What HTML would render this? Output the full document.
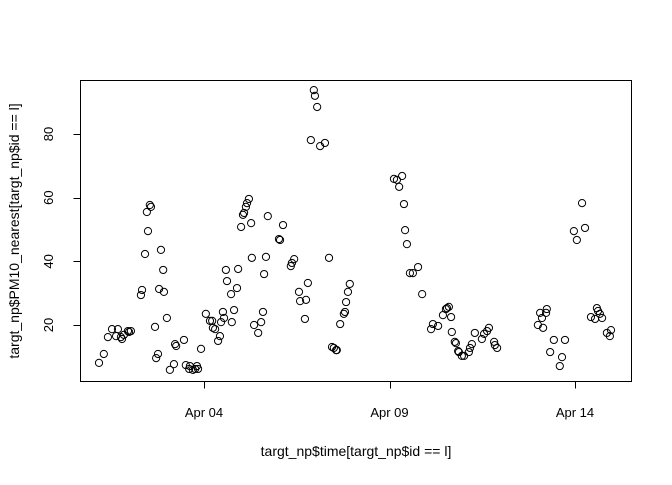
<!DOCTYPE html>
<html><head><meta charset="utf-8"><style>
html,body{margin:0;padding:0;background:#fff;}
svg text{font-family:"Liberation Sans",Arial,sans-serif;fill:#000;}
</style></head><body>
<svg id="chart" width="672" height="480" viewBox="0 0 672 480" xmlns="http://www.w3.org/2000/svg">
<rect x="80.5" y="80.5" width="551" height="301" fill="none" stroke="#000" stroke-width="1"/>
<g id="axes"></g>
<g id="points"></g>
<text x="356" y="456" font-size="14" text-anchor="middle">targt_np$time[targt_np$id == l]</text>
<text x="0" y="0" font-size="14" text-anchor="middle" transform="translate(19,231) rotate(-90)">targt_np$PM10_nearest[targt_np$id == l]</text>
</svg>
<script>
// time in days of April (Apr 04 00:00 = 4)
const times = [1.17,1.30,1.41,1.52,1.63,1.68,1.76,1.79,1.84,1.95,1.98,2.03,2.30,2.33,2.41,2.49,2.46,2.54,2.57,2.68,2.71,2.76,2.79,2.84,2.90,2.92,3.00,3.08,3.19,3.22,3.25,3.46,3.51,3.60,3.62,3.70,3.76,3.81,3.84,3.92,
4.05,4.16,4.22,4.24,4.30,4.38,4.43,4.46,4.51,4.54,4.59,4.62,4.73,4.75,4.81,4.89,4.92,5.00,5.05,5.08,5.13,5.16,5.21,5.27,5.29,5.35,5.46,5.54,5.59,5.62,5.67,5.72,6.02,6.05,6.13,6.34,6.37,6.43,6.56,6.59,6.75,6.72,6.80,
6.88,6.96,6.99,7.05,7.13,7.26,7.37,7.45,7.50,7.56,7.58,7.67,7.77,7.80,7.83,7.88,7.93,9.12,9.20,9.26,9.34,9.39,9.42,9.47,9.55,9.63,9.77,9.88,10.12,10.17,10.31,
10.44,10.52,10.55,10.60,10.66,10.68,10.76,10.79,10.85,10.87,10.95,11.01,11.14,11.17,11.22,11.30,11.49,11.55,11.63,11.68,11.82,11.84,11.90,
13.00,13.06,13.11,13.14,13.22,13.24,13.33,13.43,13.65,13.59,13.73,13.97,14.05,14.19,14.27,14.43,14.54,14.59,14.62,14.67,14.73,14.86,14.94,14.97];
const pm10 = [8.1,10.9,16.2,18.7,16.5,18.7,16.2,15.6,16.9,18.1,17.8,18.1,29.4,31.0,42.3,49.5,55.5,57.7,57.1,19.4,9.6,10.9,31.3,43.6,37.3,30.4,22.2,5.9,7.7,14.0,13.4,15.3,7.4,6.2,7.1,5.9,6.2,7.1,6.2,12.5,
23.5,21.3,21.3,19.1,18.7,15.0,16.5,20.9,24.1,22.2,37.3,33.8,29.7,20.9,24.7,31.6,37.6,50.8,54.6,55.2,57.1,58.3,59.6,52.0,41.1,20.0,17.5,20.9,24.1,36.0,41.4,54.2,47.0,46.7,51.4,38.5,39.5,40.7,30.4,27.5,27.9,21.9,33.2,
78.1,93.8,92.0,88.5,76.2,77.2,41.1,13.1,12.8,12.1,12.1,20.3,23.5,24.1,27.2,30.4,32.9,65.9,65.6,63.4,66.8,58.0,49.8,45.4,36.3,36.3,38.2,29.7,18.7,20.3,19.7,
23.1,25.0,25.3,25.7,22.5,17.8,14.7,14.3,11.8,11.5,10.3,10.3,11.5,12.8,14.0,17.5,15.6,17.2,18.1,19.1,14.7,13.7,12.8,
20.0,23.8,22.2,19.1,23.8,25.0,11.5,15.3,9.9,7.1,15.3,49.5,46.7,58.3,50.5,22.5,21.9,25.3,24.4,23.5,22.2,17.5,16.5,18.4];
const xTickValues = [4, 9, 14];
const xTickLabels = ["Apr 04", "Apr 09", "Apr 14"];
const yTickValues = [20, 40, 60, 80];
const yTickLabels = ["20", "40", "60", "80"];

const NS = "http://www.w3.org/2000/svg";
function xScale(t){ return 204 + (t - 4) * 37.1; }
function yScale(v){ return 325 - (v - 20) * 3.183; }
function mk(tag, attrs){ const e = document.createElementNS(NS, tag); for (const k in attrs) e.setAttribute(k, attrs[k]); return e; }

const axes = document.getElementById('axes');
// x axis
const xl = mk('line', {x1: xScale(xTickValues[0]), x2: xScale(xTickValues[xTickValues.length-1]), y1: 381.5, y2: 381.5, stroke: '#000'});


axes.appendChild(xl);
xTickValues.forEach((t, i) => {
  const x = Math.round(xScale(t)) + 0.5;
  const tk = mk('line', {x1: x, x2: x, y1: 381.5, y2: 388.5, stroke: '#000'});
  
  
  axes.appendChild(tk);
  const tx = mk('text', {x: xScale(t), y: 417, 'font-size': 13, 'text-anchor': 'middle'});
  
  
  tx.textContent = xTickLabels[i];
  axes.appendChild(tx);
});
// y axis
const yl = mk('line', {x1: 80.5, x2: 80.5, y1: yScale(yTickValues[0]), y2: yScale(yTickValues[yTickValues.length-1]), stroke: '#000'});


axes.appendChild(yl);
yTickValues.forEach((v, i) => {
  const y = Math.round(yScale(v)) + 0.5;
  const tk = mk('line', {x1: 73.5, x2: 80.5, y1: y, y2: y, stroke: '#000'});
  
  
  axes.appendChild(tk);
  const tx = mk('text', {x: 0, y: 0, 'font-size': 13, 'text-anchor': 'middle', transform: 'translate(53,' + yScale(v) + ') rotate(-90)'});
  
  
  tx.textContent = yTickLabels[i];
  axes.appendChild(tx);
});
// points
const pg = document.getElementById('points');
times.forEach((t, i) => {
  const c = mk('circle', {cx: xScale(t), cy: yScale(pm10[i]), r: 3.6, fill: 'none', stroke: '#000', 'stroke-width': 1});
  
  
  pg.appendChild(c);
});
</script>
</body></html>
